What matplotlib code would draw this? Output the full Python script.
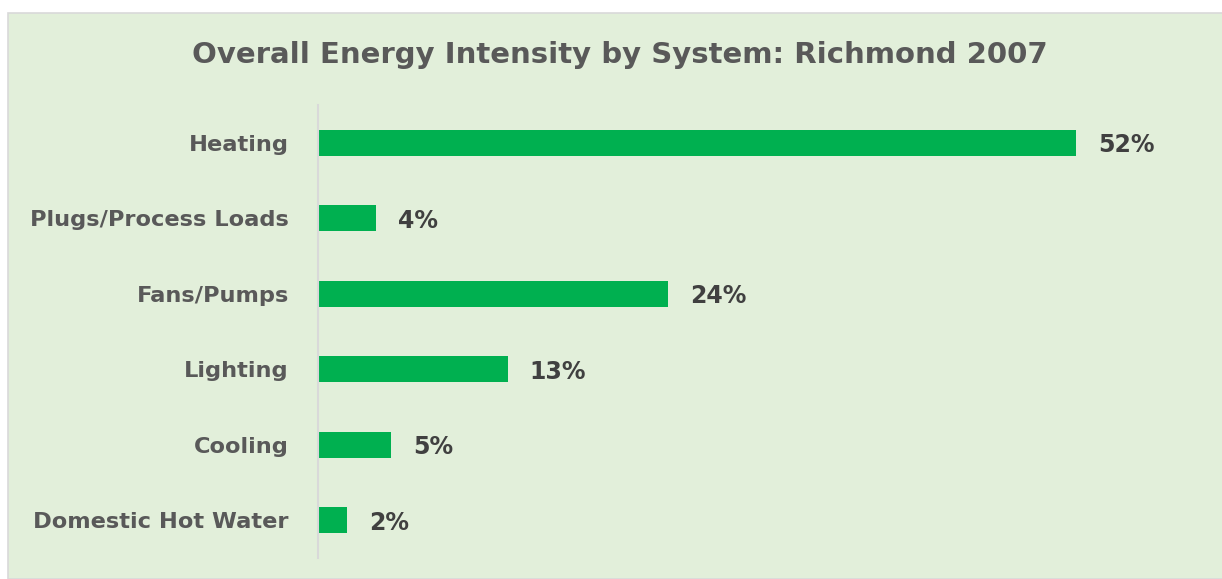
import matplotlib.pyplot as plt
from matplotlib.patches import Rectangle

# data, top to bottom as shown
systems = ["Heating", "Plugs/Process Loads", "Fans/Pumps", "Lighting",
           "Cooling", "Domestic Hot Water"]
shares = [52, 4, 24, 13, 5, 2]

bar_color = "#00B050"
bg_color = "#E2EFDA"
label_color = "#595959"
value_color = "#404040"

plt.rcParams['font.family'] = ['DejaVu Sans']

fig = plt.figure(figsize=(12.22, 5.79), dpi=100)
fig.patch.set_facecolor("white")

# chart panel background with thin gray border
panel = Rectangle((8 / 1222, 0), 1.0, 1 - 13 / 579, transform=fig.transFigure,
                  facecolor=bg_color, edgecolor="#D9D9D9", linewidth=1.2, zorder=-10)
fig.patches.append(panel)

ax = fig.add_axes([318 / 1222, 21 / 579, 846 / 1222, 453 / 579])
ax.set_facecolor("none")
ax.set_zorder(5)

pos = list(range(len(systems)))
ax.barh(pos, shares, height=0.345, color=bar_color, zorder=2)
ax.set_ylim(len(systems) - 0.5, -0.5)
ax.set_xlim(0, 58)

for p, v in zip(pos, shares):
    ax.text(v + 1.5, p + 0.03, f"{v}%", va="center", ha="left", fontsize=17,
            fontweight="bold", color=value_color)

ax.set_yticks(pos)
ax.set_yticklabels(systems, fontsize=16.2, fontweight="bold", color=label_color)
ax.tick_params(axis="y", length=0, pad=21)
ax.set_xticks([])

for side in ["top", "right", "bottom"]:
    ax.spines[side].set_visible(False)
ax.spines["left"].set_color("#D9D9D9")
ax.spines["left"].set_linewidth(1.5)

fig.text(620 / 1222, 1 - 55 / 579, "Overall Energy Intensity by System: Richmond 2007",
         ha="center", va="center", fontsize=21, fontweight="bold", color=label_color)

fig.savefig("out.png", dpi=100)
